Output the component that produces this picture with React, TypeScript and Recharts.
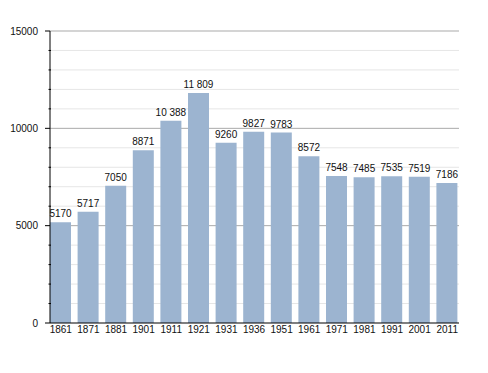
import React from "react";
import { BarChart, Bar, XAxis, YAxis, CartesianGrid, LabelList } from "recharts";

const years = ["1861", "1871", "1881", "1901", "1911", "1921", "1931", "1936", "1951", "1961", "1971", "1981", "1991", "2001", "2011"];
const population = [5170, 5717, 7050, 8871, 10388, 11809, 9260, 9827, 9783, 8572, 7548, 7485, 7535, 7519, 7186];
const yTicks = [0, 1000, 2000, 3000, 4000, 5000, 6000, 7000, 8000, 9000, 10000, 11000, 12000, 13000, 14000, 15000];
const majorTicks = [0, 5000, 10000, 15000];
const minorGrid = yTicks.filter((t) => t % 5000 !== 0);
const majorGrid = [5000, 10000, 15000];

const data = years.map((y, i) => ({ year: y, pop: population[i] }));

const FONT = "'Liberation Sans', Arial, sans-serif";

const fmt = (v: number) => {
  if (v >= 10000) {
    const s = String(v);
    return s.slice(0, s.length - 3) + "\u00a0" + s.slice(s.length - 3);
  }
  return String(v);
};

const YTick = (props: any) => {
  const { x, y, payload } = props;
  const v = payload.value;
  const major = majorTicks.includes(v);
  return (
    <g>
      {major ? (
        <line x1={x - 5} x2={x} y1={y} y2={y} stroke="#000" strokeWidth={1} />
      ) : (
        <line x1={x - 1.5} x2={x + 1} y1={y} y2={y} stroke="#000" strokeWidth={1} />
      )}
      {major && (
        <text x={x - 12} y={y} dy="0.35em" textAnchor="end" fontSize={10} fontFamily={FONT} fill="#111">
          {v}
        </text>
      )}
    </g>
  );
};

export default function App() {
  return (
    <BarChart
      width={480}
      height={365}
      data={data}
      margin={{ top: 23, right: 29, bottom: 20, left: 0 }}
      barSize={21}
    >
      <CartesianGrid vertical={false} horizontalValues={minorGrid} stroke="#e6e6e6" />
      <CartesianGrid vertical={false} horizontalValues={majorGrid} stroke="#a9a9a9" />
      <XAxis
        dataKey="year"
        padding={{ left: -3, right: -2 }}
        tickLine={false}
        tickSize={0}
        tickMargin={3}
        height={30}
        axisLine={{ stroke: "#000" }}
        interval={0}
        tick={{ fontSize: 10, fontFamily: FONT, fill: "#111" }}
      />
      <YAxis
        width={42}
        domain={[0, 15000]}
        ticks={yTicks}
        interval={0}
        tickLine={false}
        tickSize={0}
        tickMargin={0}
        axisLine={{ stroke: "#000" }}
        tick={<YTick />}
      />
      <Bar dataKey="pop" fill="#9cb4d0" isAnimationActive={false}>
        <LabelList
          dataKey="pop"
          position="top"
          offset={5}
          formatter={(v: any) => fmt(Number(v))}
          style={{ fontSize: 10, fontFamily: FONT, fill: "#111" }}
        />
      </Bar>
    </BarChart>
  );
}
